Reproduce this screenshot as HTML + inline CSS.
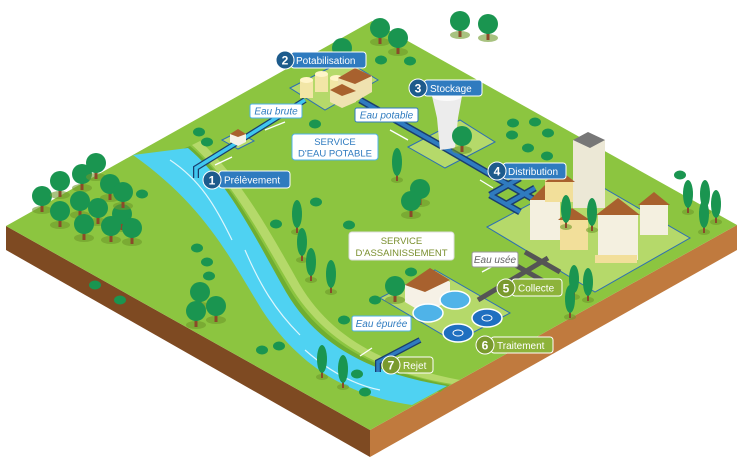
<!DOCTYPE html>
<html><head><meta charset="utf-8"><style>
html,body{margin:0;padding:0;background:#fff;}
svg{display:block;font-family:"Liberation Sans",sans-serif;}
</style></head><body>
<svg width="747" height="458" viewBox="0 0 747 458" xmlns="http://www.w3.org/2000/svg">
<defs>
<g id="t"><ellipse cx="0" cy="10" rx="10" ry="4" fill="#6e9a2c" opacity=".6"/><rect x="-1.5" y="0" width="3" height="12" fill="#8a4a2a"/><circle cx="0" cy="-4" r="10" fill="#1a9550"/></g>
<g id="p"><ellipse cx="0" cy="12" rx="6" ry="3" fill="#6e9a2c" opacity=".6"/><rect x="-1" y="4" width="2" height="9" fill="#8a4a2a"/><ellipse cx="0" cy="-6" rx="5" ry="14" fill="#1a9550"/></g>
<g id="b"><ellipse cx="0" cy="0" rx="6" ry="4.5" fill="#1a9550"/></g>
</defs>
<polygon points="6,226 370,430 370,457 6,250" fill="#7e4a22"/>
<polygon points="370,430 737,225 737,250 370,457" fill="#c07a3e"/>
<polygon points="6,226 372,21 737,225 370,430" fill="#8cc540"/>
<path d="M190,146 C230,180 255,230 290,290 C320,340 370,370 450,385 L440,392 C370,380 315,345 280,295 C248,240 222,190 180,150Z" fill="#6fae32"/>
<path d="M200,141 C240,178 268,228 300,285 C330,335 380,365 460,380 L452,384 C378,372 325,340 293,290 C260,235 234,183 192,145Z" fill="#b5d96a"/>
<path d="M133,155 L188,148 C228,182 252,232 286,292 C318,346 370,373 447,386 L412,405 C350,396 300,368 262,310 C230,258 205,206 133,155Z" fill="#4fd2f2"/>
<path d="M170,160 C200,180 215,205 232,240 M245,250 C260,285 275,310 300,335 M305,350 C330,372 355,385 380,390" stroke="#fff" stroke-width="1.2" fill="none" opacity=".8"/>
<polygon points="290,88 345,60 378,80 325,110" fill="#b5d96a" stroke="#2d6fb3" stroke-width="1"/>
<polygon points="408,147 460,120 495,142 445,168" fill="#b5d96a" stroke="#2d6fb3" stroke-width="1"/>
<polygon points="487,227 583,176 690,238 595,292" fill="#b5d96a" stroke="#2d6fb3" stroke-width="1"/>
<polygon points="380,298 435,270 510,313 455,342" fill="#b5d96a" stroke="#2d6fb3" stroke-width="1"/>
<polygon points="222,140 238,132 254,141 238,149" fill="#b5d96a" stroke="#2d6fb3" stroke-width="1"/>
<path d="M196,178 L196,168 L238,142 L305,100" stroke="#1a3e6e" stroke-width="6" fill="none"/>
<path d="M196,178 L196,168 L238,142 L305,100" stroke="#3fc7ef" stroke-width="3.5" fill="none"/>
<path d="M360,100 L445,148 L500,180 L535,200 M490,195 L520,178 M505,205 L535,188 M490,195 L520,212" stroke="#1a3e6e" stroke-width="7" fill="none"/>
<path d="M360,100 L445,148 L500,180 L535,200 M490,195 L520,178 M505,205 L535,188 M490,195 L520,212" stroke="#2f7bbf" stroke-width="4" fill="none"/>
<path d="M548,258 L478,300 M510,262 L545,282 M525,252 L560,272" stroke="#555" stroke-width="5" fill="none"/>
<path d="M420,340 L378,362 L378,372" stroke="#1a3e6e" stroke-width="6" fill="none"/>
<path d="M420,340 L378,362 L378,372" stroke="#2f7bbf" stroke-width="3.5" fill="none"/>
<rect x="300" y="80" width="13" height="18" fill="#f2e6a6"/><ellipse cx="306.5" cy="80" rx="6.5" ry="3" fill="#fff5c8"/>
<rect x="315" y="74" width="13" height="18" fill="#f2e6a6"/><ellipse cx="321.5" cy="74" rx="6.5" ry="3" fill="#fff5c8"/>
<rect x="330" y="78" width="13" height="18" fill="#f2e6a6"/><ellipse cx="336.5" cy="78" rx="6.5" ry="3" fill="#fff5c8"/>
<polygon points="338,78 355,68 372,76 372,92 355,102 338,94" fill="#efe2b0"/><polygon points="338,78 355,68 372,76 355,84" fill="#a8612e"/>
<polygon points="330,90 342,84 356,91 356,102 342,108 330,102" fill="#efe2b0"/><polygon points="330,90 342,84 356,91 342,96" fill="#a8612e"/>
<path d="M432,96 L462,96 L458,118 L455,148 L440,150 L437,118Z" fill="#ececec"/>
<ellipse cx="447" cy="96" rx="15" ry="5" fill="#fafafa"/>
<use href="#t" x="462" y="140"/>
<polygon points="230,134 238,130 246,134 246,142 238,146 230,142" fill="#f6f1e6"/><polygon points="230,134 238,129 246,134 238,137" fill="#a8612e"/>
<rect x="573" y="140" width="32" height="68" fill="#ece8d6"/><polygon points="573,140 588,132 605,140 590,148" fill="#777"/>
<rect x="530" y="200" width="30" height="40" fill="#f4f0e0"/><polygon points="530,200 545,185 560,200" fill="#a8612e"/>
<rect x="560" y="220" width="28" height="30" fill="#f2df9a"/><polygon points="558,220 572,208 590,220" fill="#a8612e"/>
<rect x="598" y="215" width="40" height="45" fill="#f4f0e0"/><polygon points="596,215 618,198 640,215" fill="#a8612e"/>
<rect x="595" y="255" width="42" height="8" fill="#f2df9a"/>
<rect x="640" y="205" width="28" height="30" fill="#f4f0e0"/><polygon points="638,205 654,192 670,205" fill="#a8612e"/>
<rect x="545" y="180" width="28" height="22" fill="#f2df9a"/><polygon points="545,182 560,170 575,182" fill="#a8612e"/>
<use href="#p" x="566" y="215"/><use href="#p" x="592" y="218"/>
<polygon points="405,285 430,270 450,282 450,300 425,314 405,302" fill="#f6f1e6"/><polygon points="405,285 430,268 450,280 425,292" fill="#a8612e"/>
<use href="#t" x="395" y="290"/>
<ellipse cx="455" cy="300" rx="15" ry="9" fill="#4fb3e8" stroke="#fff" stroke-width="1.5"/>
<ellipse cx="428" cy="313" rx="15" ry="9" fill="#4fb3e8" stroke="#fff" stroke-width="1.5"/>
<ellipse cx="487" cy="318" rx="15" ry="9" fill="#1f6fc0" stroke="#fff" stroke-width="1.5"/><ellipse cx="487" cy="318" rx="5" ry="3" fill="none" stroke="#fff"/>
<ellipse cx="458" cy="333" rx="15" ry="9" fill="#1f6fc0" stroke="#fff" stroke-width="1.5"/><ellipse cx="458" cy="333" rx="5" ry="3" fill="none" stroke="#fff"/>
<use href="#t" x="42" y="200"/><use href="#t" x="60" y="185"/><use href="#t" x="82" y="178"/><use href="#t" x="96" y="167"/><use href="#t" x="110" y="188"/>
<use href="#t" x="60" y="215"/><use href="#t" x="80" y="205"/><use href="#t" x="98" y="212"/><use href="#t" x="122" y="218"/>
<use href="#t" x="84" y="228"/><use href="#t" x="111" y="230"/><use href="#t" x="132" y="232"/><use href="#t" x="123" y="196"/>
<use href="#t" x="200" y="296"/><use href="#t" x="196" y="315"/><use href="#t" x="216" y="310"/>
<use href="#t" x="380" y="32"/><use href="#t" x="398" y="42"/><use href="#t" x="342" y="52"/><use href="#t" x="460" y="25"/><use href="#t" x="488" y="28"/>
<use href="#t" x="420" y="193"/><use href="#t" x="411" y="205"/>
<use href="#p" x="397" y="168"/><use href="#p" x="297" y="220"/><use href="#p" x="302" y="248"/><use href="#p" x="311" y="268"/><use href="#p" x="331" y="280"/>
<use href="#p" x="322" y="365"/><use href="#p" x="343" y="375"/>
<use href="#p" x="688" y="200"/><use href="#p" x="705" y="200"/><use href="#p" x="716" y="210"/><use href="#p" x="704" y="220"/>
<use href="#p" x="574" y="285"/><use href="#p" x="588" y="288"/><use href="#p" x="570" y="305"/>
<use href="#b" x="142" y="194"/><use href="#b" x="197" y="248"/><use href="#b" x="207" y="262"/><use href="#b" x="209" y="276"/><use href="#b" x="95" y="285"/><use href="#b" x="120" y="300"/>
<use href="#b" x="276" y="224"/><use href="#b" x="262" y="350"/><use href="#b" x="279" y="346"/><use href="#b" x="357" y="374"/><use href="#b" x="365" y="392"/>
<use href="#b" x="349" y="225"/><use href="#b" x="375" y="300"/><use href="#b" x="344" y="320"/><use href="#b" x="316" y="202"/>
<use href="#b" x="199" y="132"/><use href="#b" x="207" y="142"/><use href="#b" x="315" y="124"/>
<use href="#b" x="381" y="60"/><use href="#b" x="410" y="61"/><use href="#b" x="513" y="123"/><use href="#b" x="535" y="122"/><use href="#b" x="512" y="135"/><use href="#b" x="548" y="133"/><use href="#b" x="528" y="148"/><use href="#b" x="547" y="156"/><use href="#b" x="680" y="175"/><use href="#b" x="411" y="272"/>
<g stroke="#fff" stroke-width="1.3" fill="none"><path d="M265,130 L285,122"/><path d="M215,165 L232,157"/><path d="M390,130 L408,140"/><path d="M480,180 L493,188"/><path d="M495,265 L482,272"/><path d="M372,348 L360,356"/></g>
<g font-size="10">
<rect x="219" y="171" width="71" height="17" rx="3" fill="#2f7bbf" stroke="#fff"/><circle cx="212" cy="180" r="9" fill="#1d5b8c" stroke="#fff"/><text x="212" y="184.5" font-size="12" font-weight="bold" fill="#fff" text-anchor="middle">1</text><text x="224" y="183.5" fill="#fff">Prélèvement</text>
<rect x="291" y="52" width="75" height="16" rx="3" fill="#2f7bbf" stroke="#fff"/><circle cx="285" cy="60" r="9" fill="#1d5b8c" stroke="#fff"/><text x="285" y="64.5" font-size="12" font-weight="bold" fill="#fff" text-anchor="middle">2</text><text x="296" y="64" fill="#fff">Potabilisation</text>
<rect x="424" y="80" width="58" height="16" rx="3" fill="#2f7bbf" stroke="#fff"/><circle cx="418" cy="88" r="9" fill="#1d5b8c" stroke="#fff"/><text x="418" y="92.5" font-size="12" font-weight="bold" fill="#fff" text-anchor="middle">3</text><text x="430" y="92" fill="#fff">Stockage</text>
<rect x="503" y="163" width="63" height="16" rx="3" fill="#2f7bbf" stroke="#fff"/><circle cx="497" cy="171" r="9" fill="#1d5b8c" stroke="#fff"/><text x="497" y="175.5" font-size="12" font-weight="bold" fill="#fff" text-anchor="middle">4</text><text x="508" y="175" fill="#fff">Distribution</text>
<rect x="512" y="279" width="50" height="17" rx="3" fill="#8db33a" stroke="#fff"/><circle cx="506" cy="288" r="9" fill="#7a9a2e" stroke="#fff"/><text x="506" y="292.5" font-size="12" font-weight="bold" fill="#fff" text-anchor="middle">5</text><text x="518" y="291.5" fill="#fff">Collecte</text>
<rect x="491" y="337" width="62" height="16" rx="3" fill="#8db33a" stroke="#fff"/><circle cx="485" cy="345" r="9" fill="#7a9a2e" stroke="#fff"/><text x="485" y="349.5" font-size="12" font-weight="bold" fill="#fff" text-anchor="middle">6</text><text x="497" y="349" fill="#fff">Traitement</text>
<rect x="397" y="357" width="36" height="16" rx="3" fill="#8db33a" stroke="#fff"/><circle cx="391" cy="365" r="9" fill="#7a9a2e" stroke="#fff"/><text x="391" y="369.5" font-size="12" font-weight="bold" fill="#fff" text-anchor="middle">7</text><text x="403" y="369" fill="#fff">Rejet</text>
<rect x="250" y="104" width="52" height="14" rx="2" fill="#fff" stroke="#4fb3e8"/><text x="276" y="114.5" font-style="italic" fill="#2f7bbf" text-anchor="middle">Eau brute</text>
<rect x="355" y="108" width="63" height="14" rx="2" fill="#fff" stroke="#2f7bbf"/><text x="386.5" y="118.5" font-style="italic" fill="#2f7bbf" text-anchor="middle">Eau potable</text>
<rect x="472" y="252" width="46" height="15" rx="2" fill="#fff" stroke="#999"/><text x="495" y="263" font-style="italic" fill="#666" text-anchor="middle">Eau usée</text>
<rect x="352" y="316" width="59" height="15" rx="2" fill="#fff" stroke="#4fb3e8"/><text x="381.5" y="327" font-style="italic" fill="#2f7bbf" text-anchor="middle">Eau épurée</text>
<rect x="292" y="134" width="86" height="26" rx="3" fill="#fff" stroke="#4fb3e8"/><text x="335" y="145" fill="#2f7bbf" text-anchor="middle" font-size="9.5">SERVICE</text><text x="335" y="156.5" fill="#2f7bbf" text-anchor="middle" font-size="9.5">D'EAU POTABLE</text>
<rect x="349" y="232" width="105" height="28" rx="3" fill="#fff" stroke="#ddd"/><text x="401.5" y="244" fill="#7a8f2e" text-anchor="middle" font-size="9.5">SERVICE</text><text x="401.5" y="256" fill="#7a8f2e" text-anchor="middle" font-size="9.5">D'ASSAINISSEMENT</text>
</g>
</svg>
</body></html>
